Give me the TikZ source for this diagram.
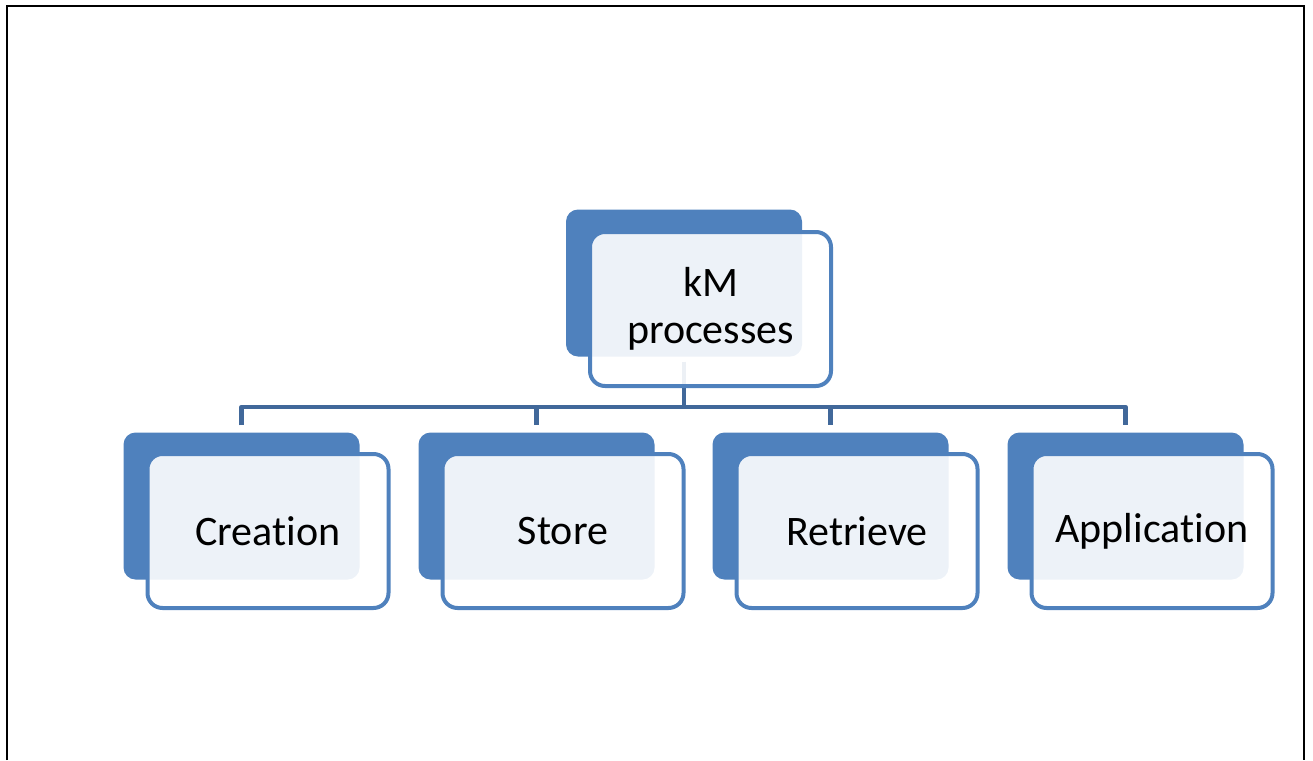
\documentclass[tikz,border=0pt]{standalone}
\usepackage{fontspec}
\setmainfont[Ligatures=NoCommon]{Carlito}
\definecolor{boxblue}{HTML}{4F81BD}
\definecolor{linkblue}{HTML}{41689A}
% zero kern keeps the letters t and i apart
\newcommand{\septi}{\kern0pt }
\begin{document}
\begin{tikzpicture}[x=1pt,y=-1pt,
  backbox/.style={rectangle,rounded corners=12pt,fill=boxblue,draw=none,
    minimum width=236pt,minimum height=147pt,inner sep=0pt},
  frontbox/.style={rectangle,rounded corners=15pt,draw=boxblue,line width=4pt,
    fill=white,fill opacity=0.9,text opacity=1,text=black,
    minimum width=241pt,minimum height=154pt,inner sep=0pt,align=center,
    font=\fontsize{42}{47}\selectfont},
  conn/.style={draw=linkblue,line width=4.5pt,line join=round}]
\useasboundingbox (0,0) rectangle (1313,760);
% page frame (open at the bottom)
\draw[line width=2.5pt] (7,760) -- (7,6) -- (1304,6) -- (1304,760);

% back panels
\node[backbox] (topb) at (684,283) {};
\node[backbox] (b1) at (241.5,506) {};
\node[backbox] (b2) at (536.5,506) {};
\node[backbox] (b3) at (830.5,506) {};
\node[backbox] (b4) at (1125.5,506) {};

% connectors
\coordinate (bus) at (0,407);
\draw[conn] ([yshift=-5pt]topb.south) -- (topb.south |- bus);
\draw[conn] ([yshift=7pt]b1.north) -- (b1.north |- bus) -- (b4.north |- bus) -- ([yshift=7pt]b4.north);
\draw[conn] (b2.north |- bus) -- ([yshift=7pt]b2.north);
\draw[conn] (b3.north |- bus) -- ([yshift=7pt]b3.north);

% front panels with labels
\node[frontbox] (top) at (710.5,309) {kM\\processes};
\node[frontbox] (f1) at (268,531) {Crea\septi tion};
\node[frontbox] (f2) at (563,531) {Store};
\node[frontbox] (f3) at (857,531) {Retrieve};
\node[frontbox] (f4) at (1152,531) {Applica\septi tion};
\end{tikzpicture}
\end{document}
